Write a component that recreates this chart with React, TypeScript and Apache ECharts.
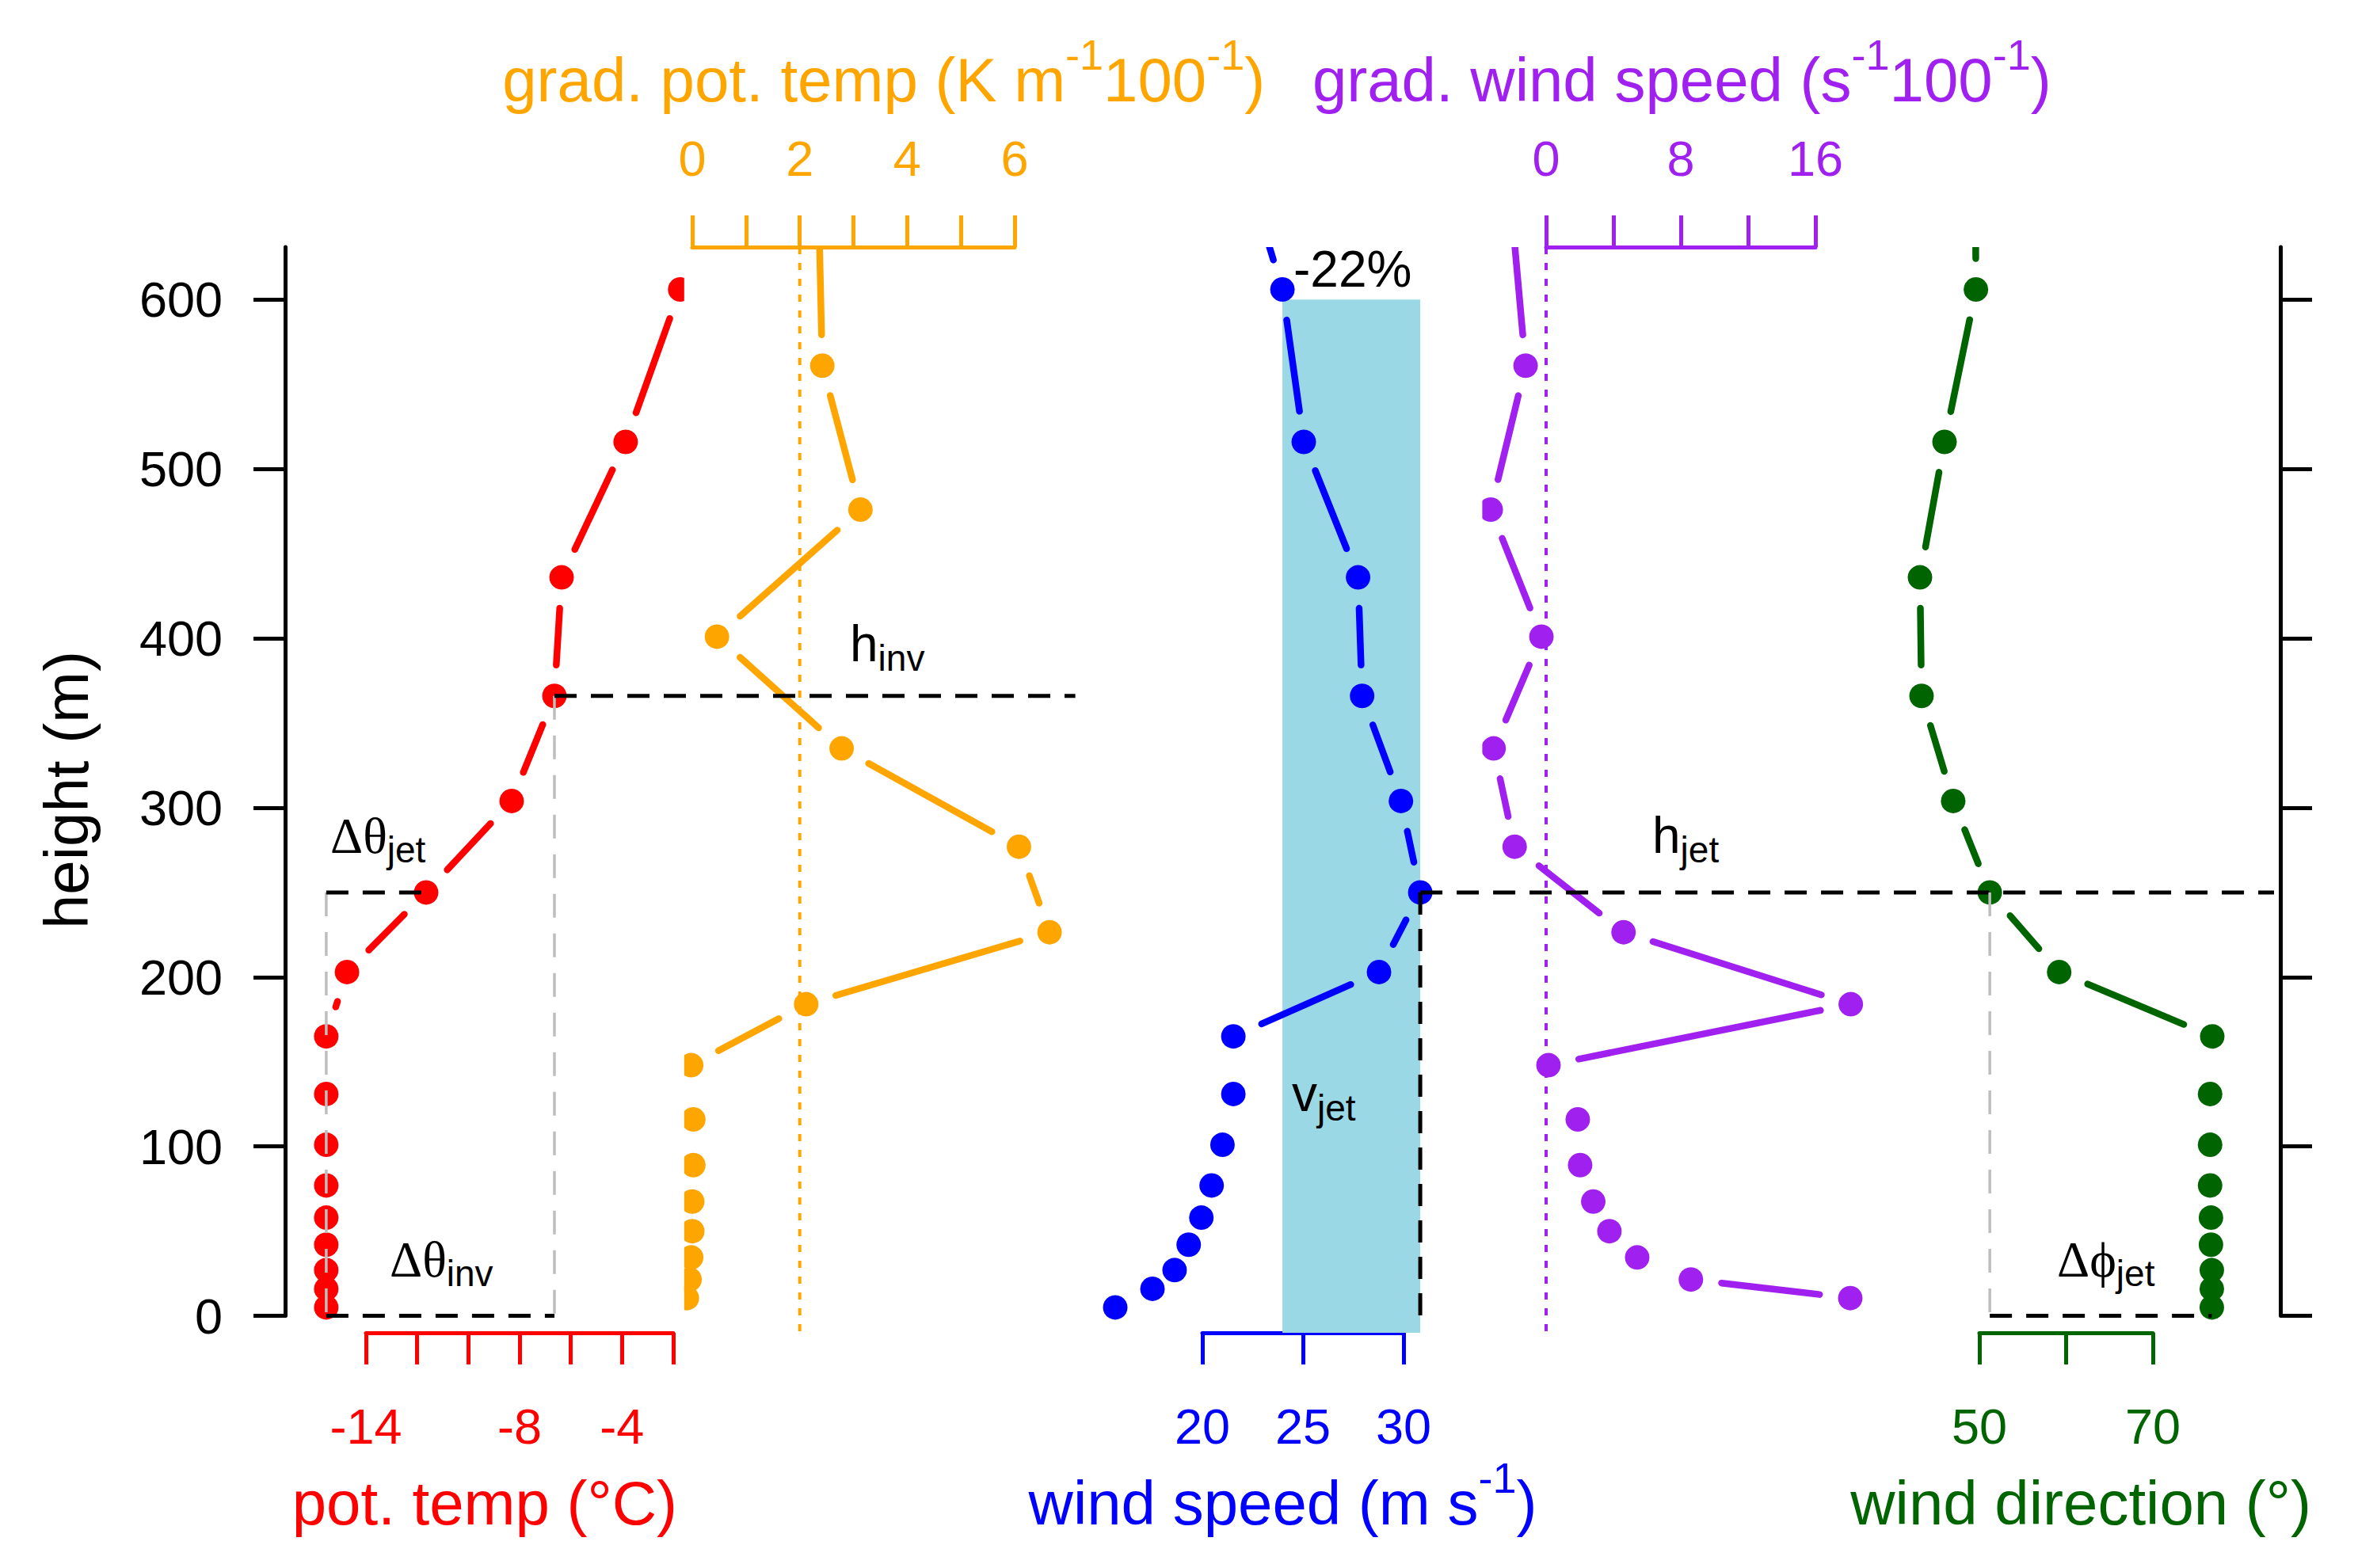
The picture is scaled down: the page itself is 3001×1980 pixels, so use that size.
import React, { useEffect, useRef } from "react";
import * as echarts from "echarts";

// ---------------- data ----------------
const levelHeights = [5, 16, 27, 42, 58, 77, 101, 131, 165, 203, 250, 304, 366, 436, 516, 606];
const potTemp = [-15.55, -15.55, -15.55, -15.55, -15.55, -15.55, -15.55, -15.55, -15.55, -14.74, -11.65, -8.31, -6.64, -6.36, -3.86, -1.73];

const windHeights = [5, 16, 27, 42, 58, 77, 101, 131, 165, 203, 250, 304, 366, 436, 516, 606, 710];
const windSpeed = [15.67, 17.52, 18.62, 19.32, 19.95, 20.46, 21.0, 21.54, 21.54, 28.78, 30.83, 29.87, 27.94, 27.74, 25.04, 23.98, 21.3];
const windDir = [76.8, 76.8, 76.8, 76.7, 76.7, 76.6, 76.6, 76.6, 76.85, 59.2, 51.2, 46.98, 43.33, 43.15, 45.98, 49.6, 49.5];

const gradHeights = [10.5, 21.5, 34.5, 50, 67.5, 89, 116, 148, 184, 226.5, 277, 335, 401, 476, 561, 658];
const gradPotTemp = [-0.1, -0.05, -0.02, 0.0, 0.0, 0.02, 0.02, -0.02, 2.12, 6.65, 6.08, 2.78, 0.46, 3.13, 2.42, 2.35];
const gradWindSpeed = [18.07, 8.6, 5.41, 3.76, 2.8, 2.02, 1.88, 0.14, 18.1, 4.6, -1.87, -3.12, -0.28, -3.29, -1.22, -2.1];

const heightTicks = [0, 100, 200, 300, 400, 500, 600];
const potTempTicks = [-14, -12, -10, -8, -6, -4, -2];
const potTempLabels = [-14, -8, -4];
const gradPotTempTicks = [0, 1, 2, 3, 4, 5, 6];
const gradPotTempLabels = [0, 2, 4, 6];
const windSpeedTicks = [20, 25, 30];
const gradWindTicks = [0, 4, 8, 12, 16];
const gradWindLabels = [0, 8, 16];
const windDirTicks = [50, 60, 70];
const windDirLabels = [50, 70];

const hInv = 366;
const hJet = 250;
const hTop = 606;
const shadeTop = 600;
const gradPotTempRef = 2;
const gradWindRef = 0;

// ---------------- layout / style ----------------
const W = 3001;
const H = 1980;
const FONT = "'Liberation Sans', Arial, Helvetica, sans-serif";
const SERIF = "'Liberation Serif', 'DejaVu Serif', 'Times New Roman', serif";
const PLOT_L = 360;
const PLOT_R = 2879;
const PLOT_T = 312;
const PLOT_B = 1683;
const Y_MIN = -10;
const Y_MAX = 631;
const PANEL_W = (PLOT_R - PLOT_L) / 5;
const DOT_R = 15.5;
const LINE_W = 8.5;
const GAP = 39;
const TICK_FS = 63;
const TITLE_FS = 78;
const ANN_FS = 64;
const SUB_FS = 46;

const RED = "#FF0000";
const ORANGE = "#FFA500";
const BLUE = "#0000FF";
const PURPLE = "#A020F0";
const GREEN = "#006400";
const SHADE = "#9ad8e5";

type Panel = {
  color: string;
  xs: number[];
  hs: number[];
  ticks: number[];
  labels: number[];
  axisPx: [number, number];
  pos: "top" | "bottom";
  title: string;
};

const panels: Panel[] = [
  { color: RED, xs: potTemp, hs: levelHeights, ticks: potTempTicks, labels: potTempLabels, axisPx: [462, 850], pos: "bottom", title: "{a|pot. temp (°C)}" },
  { color: ORANGE, xs: gradPotTemp, hs: gradHeights, ticks: gradPotTempTicks, labels: gradPotTempLabels, axisPx: [874, 1281], pos: "top", title: "{a|grad. pot. temp (K m}{s|-1}{a|100}{s|-1}{a|)}" },
  { color: BLUE, xs: windSpeed, hs: windHeights, ticks: windSpeedTicks, labels: windSpeedTicks, axisPx: [1518, 1772], pos: "bottom", title: "{a|wind speed (m s}{s|-1}{a|)}" },
  { color: PURPLE, xs: gradWindSpeed, hs: gradHeights, ticks: gradWindTicks, labels: gradWindLabels, axisPx: [1952, 2292], pos: "top", title: "{a|grad. wind speed (s}{s|-1}{a|100}{s|-1}{a|)}" },
  { color: GREEN, xs: windDir, hs: windHeights, ticks: windDirTicks, labels: windDirLabels, axisPx: [2499, 2718], pos: "bottom", title: "{a|wind direction (°)}" },
];

function panelRange(p: Panel, i: number) {
  const t0 = p.ticks[0];
  const t1 = p.ticks[p.ticks.length - 1];
  const k = (t1 - t0) / (p.axisPx[1] - p.axisPx[0]);
  const pl = PLOT_L + i * PANEL_W;
  const pr = pl + PANEL_W;
  return { min: t0 + (pl - p.axisPx[0]) * k, max: t0 + (pr - p.axisPx[0]) * k, pl };
}

function makeRenderItem(color: string) {
  return (params: any, api: any) => {
    const i = params.dataIndexInside;
    const p = api.coord([api.value(0), api.value(1)]);
    const cs = params.coordSys;
    const children: any[] = [];
    if (i > 0) {
      const q = api.coord([api.value(0, i - 1), api.value(1, i - 1)]);
      const dx = p[0] - q[0];
      const dy = p[1] - q[1];
      const len = Math.hypot(dx, dy);
      if (len > 2 * GAP + 2) {
        const ux = dx / len;
        const uy = dy / len;
        children.push({
          type: "line",
          shape: { x1: q[0] + ux * GAP, y1: q[1] + uy * GAP, x2: p[0] - ux * GAP, y2: p[1] - uy * GAP },
          style: { stroke: color, lineWidth: LINE_W, lineCap: "round" },
        });
      }
    }
    children.push({ type: "circle", shape: { cx: p[0], cy: p[1], r: DOT_R }, style: { fill: color } });
    return {
      type: "group",
      children,
      clipPath: { type: "rect", shape: { x: cs.x, y: cs.y, width: cs.width, height: cs.height } },
    };
  };
}

function buildOption() {
  const grids: any[] = [];
  const xAxes: any[] = [];
  const yAxes: any[] = [];
  const series: any[] = [];

  // frame grid (black height axes)
  const frameH = ((PLOT_B - PLOT_T) * (Y_MAX - 0)) / (Y_MAX - Y_MIN);
  grids.push({ left: PLOT_L, top: PLOT_T, width: PLOT_R - PLOT_L, height: frameH, containLabel: false, outerBoundsMode: "none" });
  xAxes.push({ gridIndex: 0, type: "value", show: false, min: 0, max: 1 });
  const yCommon = {
    gridIndex: 0,
    type: "value",
    min: 0,
    max: Y_MAX,
    interval: 100,
    axisLine: { show: true, onZero: false, lineStyle: { color: "#000", width: 5 } },
    axisTick: { show: true, inside: false, length: 40, lineStyle: { color: "#000", width: 5 }, customValues: heightTicks },
    splitLine: { show: false },
  };
  yAxes.push({ ...yCommon, position: "left", axisLabel: { show: true, margin: 79, color: "#000", fontSize: TICK_FS, fontFamily: FONT, customValues: heightTicks } });
  yAxes.push({ ...yCommon, position: "right", axisLabel: { show: false } });

  // panel grids (data, clipping)
  panels.forEach((p, i) => {
    const r = panelRange(p, i);
    grids.push({ left: r.pl, top: PLOT_T, width: PANEL_W, height: PLOT_B - PLOT_T, containLabel: false, outerBoundsMode: "none" });
    xAxes.push({ gridIndex: 1 + i, type: "value", show: false, min: r.min, max: r.max });
    yAxes.push({ gridIndex: 1 + i, type: "value", show: false, min: Y_MIN, max: Y_MAX });
    series.push({
      type: "custom",
      xAxisIndex: 1 + i,
      yAxisIndex: 2 + i,
      data: p.xs.map((x, j) => [x, p.hs[j]]),
      encode: { x: 0, y: 1 },
      renderItem: makeRenderItem(p.color),
      clip: true,
      silent: true,
      z: 3,
    });
  });

  // axis grids (visible coloured axes)
  panels.forEach((p, i) => {
    grids.push({ left: p.axisPx[0], top: PLOT_T, width: p.axisPx[1] - p.axisPx[0], height: PLOT_B - PLOT_T, containLabel: false, outerBoundsMode: "none" });
    xAxes.push({
      gridIndex: 6 + i,
      type: "value",
      min: p.ticks[0],
      max: p.ticks[p.ticks.length - 1],
      interval: p.ticks[1] - p.ticks[0],
      position: p.pos,
      axisLine: { show: true, onZero: false, lineStyle: { color: p.color, width: 5 } },
      axisTick: { show: true, inside: false, length: 40, lineStyle: { color: p.color, width: 5 }, customValues: p.ticks },
      axisLabel: { show: true, margin: p.pos === "bottom" ? 86 : 81, color: p.color, fontSize: TICK_FS, fontFamily: FONT, customValues: p.labels },
      splitLine: { show: false },
    });
    yAxes.push({ gridIndex: 6 + i, type: "value", show: false, min: Y_MIN, max: Y_MAX });
  });

  return {
    animation: false,
    backgroundColor: "#ffffff",
    grid: grids,
    xAxis: xAxes,
    yAxis: yAxes,
    series,
  };
}

function titleRich(color: string) {
  return {
    a: { fontSize: TITLE_FS, fontFamily: FONT, fill: color, lineHeight: 118 },
    s: { fontSize: 54, fontFamily: FONT, fill: color, lineHeight: 54, verticalAlign: "top" },
  };
}

const annRich = {
  m: { fontSize: ANN_FS, fontFamily: FONT, fill: "#000", lineHeight: 82 },
  g: { fontSize: ANN_FS, fontFamily: SERIF, fill: "#000", lineHeight: 82 },
  s: { fontSize: SUB_FS, fontFamily: FONT, fill: "#000", lineHeight: SUB_FS, verticalAlign: "bottom" },
};

function textEl(x: number, y: number, text: string, rich: any, align: string, rotation = 0) {
  return {
    type: "text",
    x,
    y,
    rotation,
    z: 20,
    silent: true,
    style: { text, rich, align, verticalAlign: "middle", textAlign: align, textVerticalAlign: "middle" },
  };
}

export default function App() {
  const ref = useRef<HTMLDivElement>(null);
  useEffect(() => {
    if (!ref.current) return;
    const chart = echarts.init(ref.current, null, { renderer: "svg", width: W, height: H });
    chart.setOption(buildOption());

    const P = (k: number, v: number, h: number) =>
      chart.convertToPixel({ xAxisIndex: 1 + k, yAxisIndex: 2 + k } as any, [v, h]) as unknown as number[];
    const line = (a: number[], b: number[], kind: string, color = "#000") => {
      const style: any =
        kind === "black"
          ? { stroke: "#000", lineWidth: 5, lineDash: [28, 18] }
          : kind === "gray"
          ? { stroke: "#BEBEBE", lineWidth: 3.5, lineDash: [30, 20] }
          : { stroke: color, lineWidth: 4, lineDash: [9, 11] };
      return { type: "line", z: 10, silent: true, shape: { x1: a[0], y1: a[1], x2: b[0], y2: b[1] }, style };
    };

    const iInv = levelHeights.indexOf(hInv);
    const iJet = levelHeights.indexOf(hJet);
    const tInv = potTemp[iInv];
    const tJet = potTemp[iJet];
    const tSurf = potTemp[0];
    const wJet = windHeights.indexOf(hJet);
    const vJet = windSpeed[wJet];
    const vTop = windSpeed[windHeights.indexOf(hTop)];
    const dJet = windDir[wJet];
    const dSurf = windDir[0];
    const pct = Math.round(((vTop - vJet) / vJet) * 100);

    const orangeRange = panelRange(panels[1], 1);
    const greenRange = panelRange(panels[4], 4);

    const invStart = P(0, tInv, hInv);
    const invEnd = P(1, orangeRange.max, hInv);
    const jetStart = P(2, vJet, hJet);
    const jetEnd = P(4, greenRange.max, hJet);
    const rectA = P(2, vTop, shadeTop);
    const rectB = P(2, vJet, Y_MIN);

    const graphics: any[] = [
      { type: "rect", z: 1, silent: true, shape: { x: rectA[0], y: rectA[1], width: rectB[0] - rectA[0], height: rectB[1] - rectA[1] }, style: { fill: SHADE } },
      line(P(1, gradPotTempRef, Y_MAX), P(1, gradPotTempRef, Y_MIN), "dot", ORANGE),
      line(P(3, gradWindRef, Y_MAX), P(3, gradWindRef, Y_MIN), "dot", PURPLE),
      // inversion
      line(P(0, tInv, hInv), P(0, tInv, 0), "gray"),
      line(P(0, tSurf, hJet), P(0, tSurf, 0), "gray"),
      line(invStart, [invEnd[0] - 10, invEnd[1]], "black"),
      line(P(0, tSurf, 0), P(0, tInv, 0), "black"),
      line(P(0, tSurf, hJet), P(0, tJet, hJet), "black"),
      // jet
      line(jetStart, [jetEnd[0] - 8, jetEnd[1]], "black"),
      line(jetStart, P(2, vJet, 0), "black"),
      line(P(4, dJet, hJet), P(4, dJet, 0), "gray"),
      line(P(4, dJet, 0), P(4, dSurf, 0), "black"),
      // titles
      ...panels.map((p, i) =>
        textEl(PLOT_L + (i + 0.5) * PANEL_W, p.pos === "top" ? 101 : 1898, p.title, titleRich(p.color), "center")
      ),
      {
        type: "text",
        x: 84,
        y: (PLOT_T + PLOT_B) / 2,
        rotation: Math.PI / 2,
        z: 20,
        silent: true,
        style: { text: "height (m)", fontSize: TITLE_FS, fontFamily: FONT, fill: "#000", align: "center", verticalAlign: "middle", textAlign: "center", textVerticalAlign: "middle" },
      },
      // annotations
      textEl(1073, 813, "{m|h}{s|inv}", annRich, "left"),
      textEl(417, 1055, "{g|Δθ}{s|jet}", annRich, "left"),
      textEl(492, 1590, "{g|Δθ}{s|inv}", annRich, "left"),
      textEl(2086, 1055, "{m|h}{s|jet}", annRich, "left"),
      textEl(1631, 1381, "{m|v}{s|jet}", annRich, "left"),
      textEl(2597, 1590, "{g|Δϕ}{s|jet}", annRich, "left"),
      textEl(1633, 340, `{m|${pct}%}`, annRich, "left"),
    ];
    chart.setOption({ graphic: graphics });

    return () => chart.dispose();
  }, []);
  return (
    <div
      ref={ref}
      style={{ position: "absolute", left: 0, top: 0, width: W, height: H, background: "#fff" }}
    />
  );
}
